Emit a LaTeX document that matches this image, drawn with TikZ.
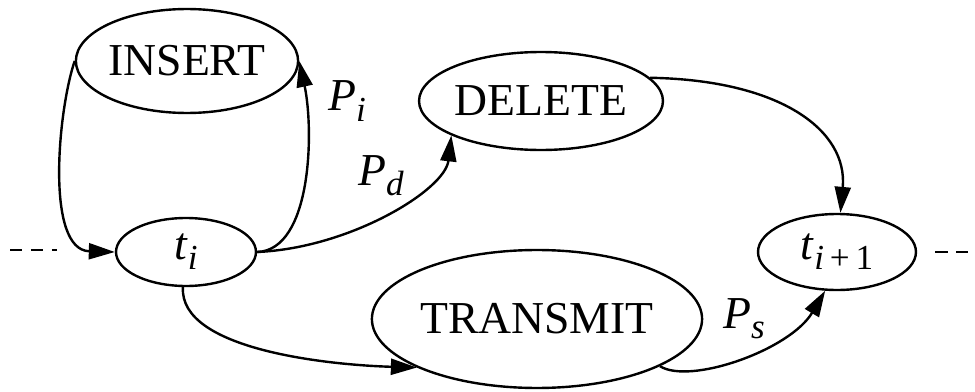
\documentclass[tikz,border=0pt]{standalone}
\usepackage{fontspec}
\setmainfont{Liberation Serif}
\usetikzlibrary{arrows.meta, shapes.geometric}

\newcommand{\isub}[2]{\textit{#1}\raisebox{-0.22em}{\fontsize{20}{22}\selectfont #2}}

\begin{document}
\begin{tikzpicture}[
    x=0.02cm, y=-0.02cm,
    >={Triangle[length=0.52cm, width=0.32cm]},
    line width=0.048cm,
    st/.style={draw, ellipse, inner sep=0pt, font=\fontsize{26}{30}\selectfont},
    prob/.style={anchor=base west, inner sep=0pt, font=\fontsize{26}{30}\selectfont},
    dsh/.style={dash pattern=on 0.25cm off 0.17cm}]
    \useasboundingbox (0,0) rectangle (975,392);
    % states
    \node[st, minimum width=4.32cm, minimum height=2.08cm] (ins) at (187,61) {INSERT};
    \node[st, minimum width=2.8cm, minimum height=1.36cm] (ti) at (186,252) {\isub{t}{\textit{i}}};
    \node[st, minimum width=4.28cm, minimum height=1.96cm] (del) at (541,101) {DELETE};
    \node[st, minimum width=5.72cm, minimum height=2.76cm] (tr) at (537,319) {TRANSMIT};
    \node[st, minimum width=3.16cm, minimum height=1.52cm] (tn) at (837,252) {\isub{t}{\textit{i}\,+\,1}};
    % transitions
    \draw[->] (ins.west) .. controls (58,110) and (45,250) .. (ti.west);
    \draw[->] (ti.east) .. controls (312,250) and (314,130) .. (ins.east);
    \draw[->] (ti.east) .. controls (350,248) and (445,190) .. (del.201);
    \draw[->] (del.12) .. controls (780,80) and (848,130) .. (tn.85);
    \draw[->] (ti.265) .. controls (179,350) and (330,365) .. (tr.202);
    \draw[->] (tr.-21) .. controls (690,385) and (790,350) .. (tn.253);
    % labels
    \node[prob] (pi) at (327,111) {\isub{P}{\textit{i}}};
    \node[prob] (pd) at (357,185) {\isub{P}{\textit{d}}};
    \node[prob] (ps) at (722,328) {\isub{P}{\textit{s}}};
    % dashed continuation
    \coordinate (inA) at (10,250);
    \coordinate (inB) at (57,250);
    \coordinate (outA) at (935,252);
    \coordinate (outB) at (975,252);
    \draw[dsh] (inA) -- (inB);
    \draw[dsh] (outA) -- (outB);
\end{tikzpicture}
\end{document}
